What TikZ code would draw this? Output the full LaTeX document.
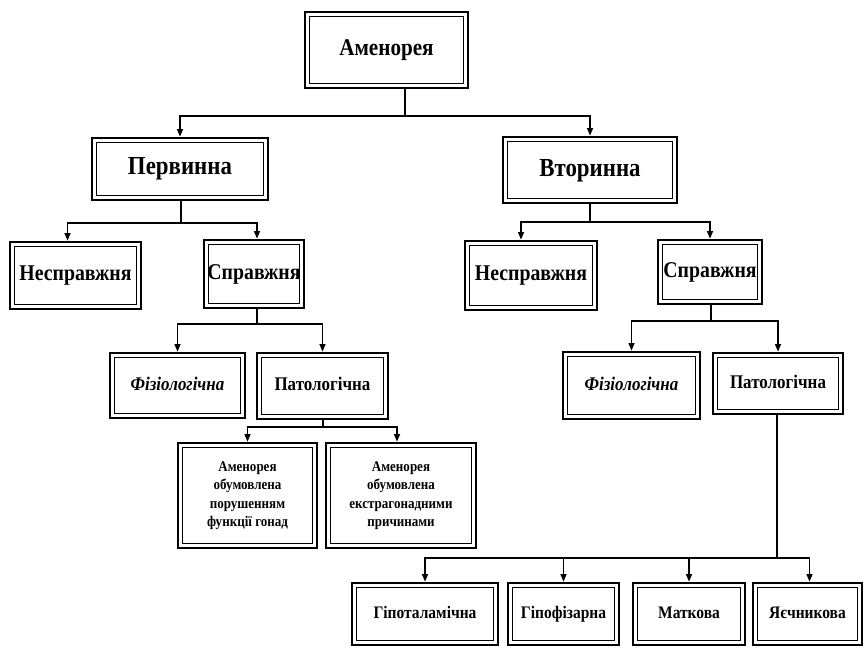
\documentclass[tikz,border=0pt]{standalone}
\usepackage{fontspec}
\setmainfont{Liberation Serif}[FakeStretch=0.88]
\usetikzlibrary{arrows.meta}
\tikzset{
  box/.style={draw=black, line width=2.8pt, inner sep=0pt, align=center, font=\bfseries,
    path picture={\draw[line width=0.9pt]
      ([shift={(4.2pt,-4.2pt)}]path picture bounding box.north west) rectangle
      ([shift={(-4.2pt,4.2pt)}]path picture bounding box.south east);}},
  ln/.style={line width=1.2pt},
  arr/.style={line width=1.2pt, -{Triangle[width=6pt,length=7.5pt]}},
  big/.style={font=\bfseries\fontsize{26}{29}\selectfont, text height=17pt, text depth=5pt},
  mid/.style={font=\bfseries\fontsize{22.5}{25}\selectfont, text height=15pt, text depth=4.5pt},
  sml/.style={font=\bfseries\fontsize{19.3}{22}\selectfont, text height=13pt, text depth=4pt},
  smi/.style={font=\bfseries\itshape\fontsize{19.3}{22}\selectfont, text height=13pt, text depth=4pt},
  bot/.style={font=\bfseries\fontsize{17.6}{20}\selectfont, text height=12pt, text depth=3.5pt},
  tiny/.style={font=\bfseries\fontsize{14.8}{18.5}\selectfont},
}
\begin{document}
\begin{tikzpicture}[x=1pt,y=-1pt]
\useasboundingbox (0,0) rectangle (866,647);
% level 0
\node[box, font=\bfseries\fontsize{24}{27}\selectfont, minimum width=163pt, minimum height=76pt] (amen) at (386.5,50) {Аменорея};
% level 1
\node[box, big, minimum width=176pt, minimum height=62pt] (perv) at (180,169) {Первинна};
\node[box, big, minimum width=174pt, minimum height=66pt] (vtor) at (590,170) {Вторинна};
% level 2
\node[box, mid, minimum width=131pt, minimum height=67pt] (nes1) at (75.5,275.5) {Несправжня};
\node[box, mid, minimum width=100pt, minimum height=68pt] (spr1) at (254,274) {Справжня};
\node[box, mid, minimum width=132pt, minimum height=69pt] (nes2) at (531,275.5) {Несправжня};
\node[box, mid, minimum width=104pt, minimum height=64pt] (spr2) at (710,272) {Справжня};
% level 3
\node[box, smi, minimum width=135pt, minimum height=65pt] (fiz1) at (177.5,385.5) {Фізіологічна};
\node[box, sml, minimum width=131pt, minimum height=66pt] (pat1) at (322.5,386) {Патологічна};
\node[box, smi, minimum width=137pt, minimum height=67pt] (fiz2) at (631.5,385.5) {Фізіологічна};
\node[box, sml, minimum width=130pt, minimum height=61pt] (pat2) at (778,383.5) {Патологічна};
% level 4 left
\node[box, tiny, minimum width=139pt, minimum height=105pt] (am1) at (247.5,495.5) {Аменорея\\обумовлена\\порушенням\\функції гонад};
\node[box, tiny, minimum width=150pt, minimum height=105pt] (am2) at (401,495.5) {Аменорея\\обумовлена\\екстрагонадними\\причинами};
% level 4 right
\node[box, bot, minimum width=146pt, minimum height=62pt] (hip1) at (425,614) {Гіпоталамічна};
\node[box, bot, minimum width=111pt, minimum height=62pt] (hip2) at (563.5,614) {Гіпофізарна};
\node[box, bot, minimum width=112pt, minimum height=62pt] (mat) at (689,614) {Маткова};
\node[box, bot, minimum width=109pt, minimum height=62pt] (yaie) at (807.5,614) {Яєчникова};
% connectors
\coordinate (j0) at (405,116);
\draw[ln] (amen.south -| j0) -- (j0);
\draw[arr] (j0) -| (perv.north);
\draw[arr] (j0) -| (vtor.north);
\coordinate (j1) at (181,223);
\draw[ln] (perv.south -| j1) -- (j1);
\draw[arr] (j1) -| ([xshift=-8pt]nes1.north);
\draw[arr] (j1) -| ([xshift=3pt]spr1.north);
\coordinate (j2) at (590,222);
\draw[ln] (vtor.south -| j2) -- (j2);
\draw[arr] (j2) -| ([xshift=-10pt]nes2.north);
\draw[arr] (j2) -| (spr2.north);
\coordinate (j3) at (257,324);
\draw[ln] (spr1.south -| j3) -- (j3);
\draw[arr] (j3) -| (fiz1.north);
\draw[arr] (j3) -| (pat1.north);
\coordinate (j4) at (711,321);
\draw[ln] (spr2.south -| j4) -- (j4);
\draw[arr] (j4) -| (fiz2.north);
\draw[arr] (j4) -| (pat2.north);
\coordinate (j5) at (323,427);
\draw[ln] (pat1.south -| j5) -- (j5);
\draw[arr] (j5) -| (am1.north);
\draw[arr] (j5) -| ([xshift=-4pt]am2.north);
\coordinate (j6) at (777,558);
\draw[ln] (pat2.south -| j6) -- (j6);
\draw[arr] (j6) -| (hip1.north);
\draw[arr] (j6) -| (hip2.north);
\draw[arr] (j6) -| (mat.north);
\draw[arr] (j6) -| ([xshift=2pt]yaie.north);
\end{tikzpicture}
\end{document}
